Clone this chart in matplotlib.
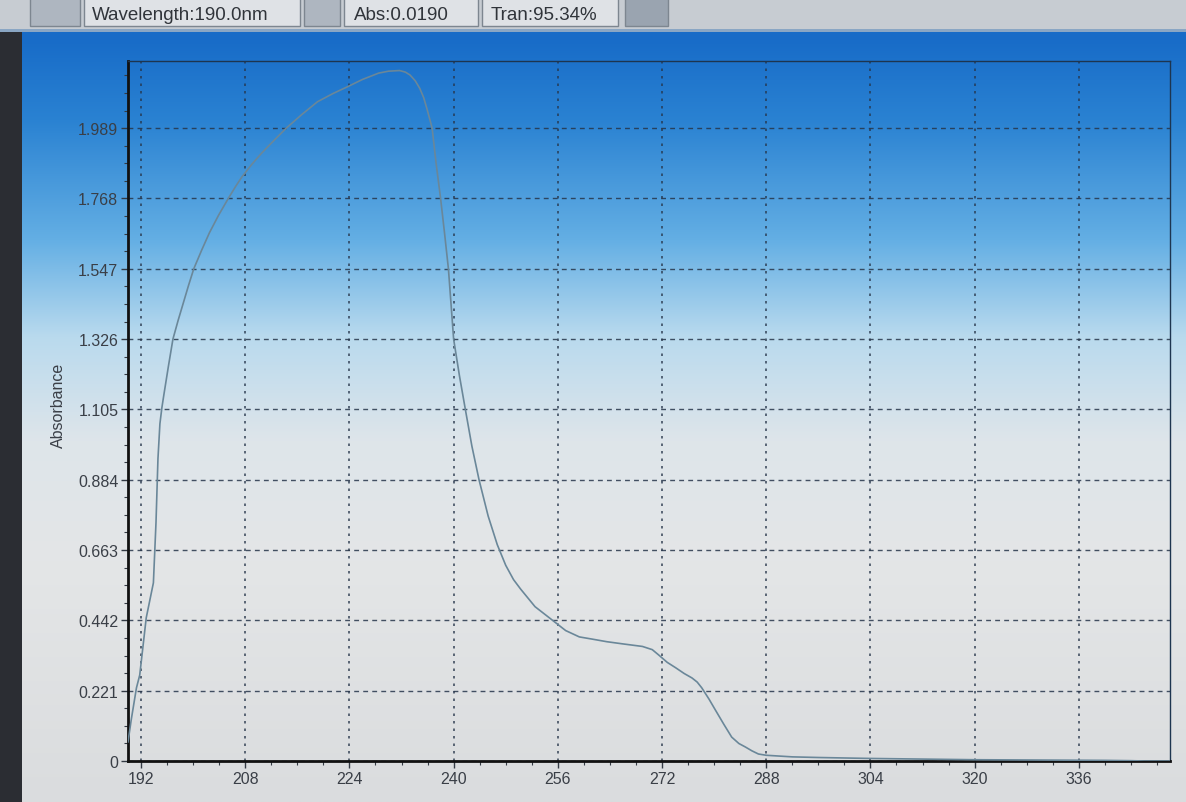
import numpy as np
import matplotlib
matplotlib.use("Agg")
import matplotlib.pyplot as plt
from matplotlib.ticker import FixedLocator, AutoMinorLocator
from matplotlib.patches import Rectangle

# ---- data ----
wavelength = [190.0, 190.5, 191.3, 191.8, 192.8, 193.9, 194.3, 194.6, 194.9, 195.2,
              195.5, 196.2, 196.9, 197.7, 198.5, 199.3, 200.1, 201.3, 202.5, 203.9,
              205.4, 206.5, 207.5, 209.0, 210.5, 212.4, 214.3, 216.7, 219.1, 221.5,
              223.8, 226.0, 228.5, 230.0, 231.7, 232.6, 233.3, 234.1, 234.8, 235.4,
              235.9, 236.3, 236.7, 237.3, 238.0, 238.6, 239.2, 240.0, 240.9, 241.8,
              242.8, 243.9, 245.3, 246.7, 248.0, 249.2, 250.3, 252.5, 255.2, 257.2,
              259.3, 261.3, 263.5, 266.0, 269.0, 270.5, 271.5, 272.8, 274.1, 275.4,
              276.6, 277.4, 278.1, 279.2, 280.2, 281.5, 282.7, 283.8, 284.8, 285.8,
              286.8, 288.0, 292.0, 296.0, 304.0, 312.0, 320.0, 330.0, 340.0, 344.0,
              346.0, 350.0]
absorbance = [0.06, 0.13, 0.23, 0.27, 0.45, 0.56, 0.75, 0.95, 1.06, 1.11,
              1.15, 1.24, 1.326, 1.385, 1.44, 1.495, 1.547, 1.605, 1.66, 1.715,
              1.768, 1.805, 1.836, 1.875, 1.91, 1.95, 1.989, 2.032, 2.072, 2.098,
              2.12, 2.142, 2.162, 2.168, 2.170, 2.165, 2.156, 2.138, 2.114, 2.085,
              2.05, 2.02, 1.989, 1.88, 1.768, 1.66, 1.547, 1.326, 1.21, 1.105,
              0.99, 0.884, 0.77, 0.68, 0.615, 0.57, 0.54, 0.485, 0.442, 0.41,
              0.39, 0.383, 0.375, 0.368, 0.36, 0.35, 0.333, 0.31, 0.293, 0.275,
              0.261, 0.248, 0.23, 0.195, 0.16, 0.115, 0.075, 0.055, 0.044, 0.032,
              0.022, 0.018, 0.013, 0.011, 0.008, 0.006, 0.004, 0.003, 0.002, 0.001,
              0.0, 0.0]
x_ticks = [192, 208, 224, 240, 256, 272, 288, 304, 320, 336]
y_ticks = [0, 0.221, 0.442, 0.663, 0.884, 1.105, 1.326, 1.547, 1.768, 1.989]
y_ticklabels = ["0", "0.221", "0.442", "0.663", "0.884", "1.105", "1.326", "1.547", "1.768", "1.989"]
toolbar_texts = ["Wavelength:190.0nm", "Abs:0.0190", "Tran:95.34%"]

W, H = 1186, 803
fig = plt.figure(figsize=(W / 100, H / 100), dpi=100)
plt.rcParams['font.family'] = ['Liberation Sans', 'DejaVu Sans']

# ---- background (photo of screen: blue gradient to light grey) ----
bg = fig.add_axes([0, 0, 1, 1], zorder=-5)
bg.set_xlim(0, W)
bg.set_ylim(H, 0)
bg.axis('off')
ys = np.linspace(0, 1, 400)
stops_y = [0.0, 0.05, 0.15, 0.30, 0.42, 0.55, 0.70, 1.0]
stops_c = np.array([
    [24, 104, 196],
    [24, 108, 200],
    [42, 130, 210],
    [100, 175, 228],
    [185, 218, 238],
    [222, 229, 234],
    [228, 230, 231],
    [218, 220, 222],
]) / 255.0
grad = np.stack([np.interp(ys, stops_y, stops_c[:, k]) for k in range(3)], axis=-1)
grad = np.repeat(grad[:, None, :], 2, axis=1)
bg.imshow(grad, extent=[0, W, H, 0], aspect='auto', interpolation='bilinear')
# dark left edge of the photo
bg.add_patch(Rectangle((0, 0), 22, H, color='#2b2d33', lw=0))
# toolbar strip at the top
bg.add_patch(Rectangle((0, 0), W, 30, color='#c7ccd2', lw=0))
bg.add_patch(Rectangle((0, 30), W, 3, color='#8aa6c4', lw=0))
boxes = [(30, 80, '#aeb6c0'), (84, 300, '#dfe2e6'), (304, 340, '#aeb6c0'),
         (344, 478, '#dfe2e6'), (482, 618, '#dfe2e6'), (625, 668, '#9aa4b0')]
for x0, x1, c in boxes:
    bg.add_patch(Rectangle((x0, -5), x1 - x0, 32, facecolor=c, edgecolor='#7d8690', lw=1))
for (x0, t) in zip([92, 354, 491], toolbar_texts):
    bg.text(x0, 20, t, fontsize=13.5, color='#30343a', va='baseline', ha='left')

# ---- main chart ----
left, right, top, bottom = 128, 1170, 62, 762
ax = fig.add_axes([left / W, 1 - bottom / H, (right - left) / W, (bottom - top) / H])
ax.set_facecolor('none')
ax.plot(wavelength, absorbance, color='#6a8799', lw=1.2, zorder=3)
ax.set_xlim(190, 350)
ax.set_ylim(0, 2.2)
ax.xaxis.set_major_locator(FixedLocator(x_ticks))
ax.set_yticks(y_ticks)
ax.set_yticklabels(y_ticklabels)
ax.xaxis.set_minor_locator(AutoMinorLocator(4))
ax.yaxis.set_minor_locator(AutoMinorLocator(4))
ax.tick_params(axis='both', which='major', length=5, width=1, colors='#333a44',
               labelsize=11.5, pad=2, labelcolor='#3a3f47')
ax.tick_params(axis='both', which='minor', length=3, width=0.8, colors='#333a44')
ax.grid(True, axis='y', color='#26354a', lw=1.0, linestyle=(0, (3.5, 3)), alpha=0.85)
ax.grid(True, axis='x', color='#26354a', lw=1.2, linestyle=(0, (1.5, 3)), alpha=0.85)
for s in ['left', 'bottom']:
    ax.spines[s].set_linewidth(2.0)
    ax.spines[s].set_color('#111111')
for s in ['top', 'right']:
    ax.spines[s].set_linewidth(1.0)
    ax.spines[s].set_color('#1d3550')
ax.set_ylabel('Absorbance', fontsize=11.5, color='#3a3f47')
ax.yaxis.set_label_coords(-0.06, 0.51)

fig.savefig('out.png', dpi=100)
